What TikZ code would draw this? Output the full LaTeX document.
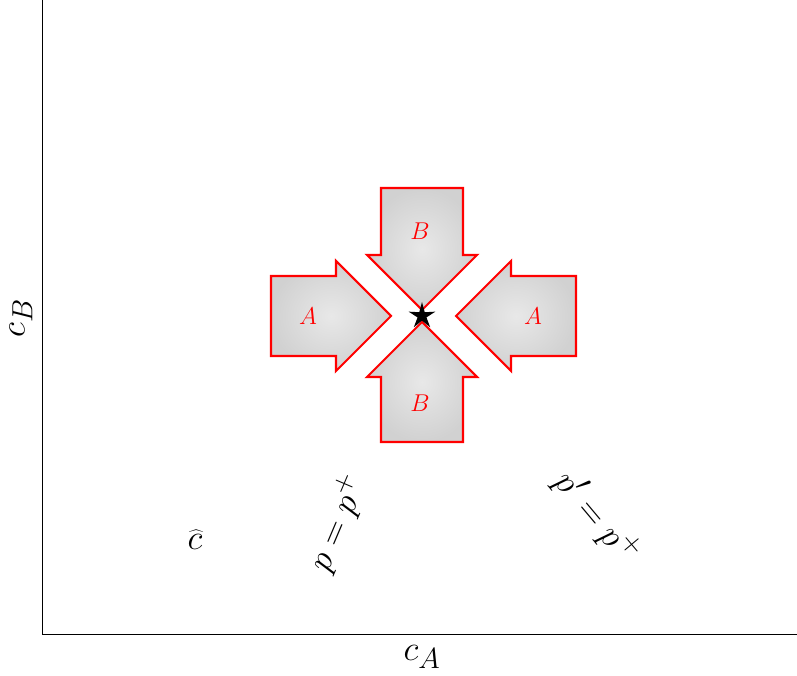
\documentclass[tikz,border=0pt]{standalone}
\usetikzlibrary{shapes.geometric}

\begin{document}
\begin{tikzpicture}[
  x=0.025cm, y=0.025cm,
  axis/.style={
    line width=0.7pt, color=black
  },
  flux/.style={
    draw=red, line width=1.5pt, line join=miter,
    shading=radial, inner color=gray!18, outer color=gray!36
  },
  species/.style={
    text=red, font=\LARGE
  },
  axlabel/.style={
    font=\Huge
  },
  curvelabel/.style={
    font=\Huge, inner sep=0pt
  }
]
\useasboundingbox (0,0) rectangle (797,676);

% ================= Axes =================
\coordinate (origin) at (42,42);
\coordinate (ytop) at (42,676);
\coordinate (xend) at (797,42);
\draw[axis] (ytop) -- (origin) -- (xend);

\node[axlabel] (cA) at (422,19) {$c_A$};
\node[axlabel, rotate=90] (cB) at (21,358) {$c_B$};

% ================= Flux arrows =================
\draw[flux] (271,320) -- (336,320) -- (336,305) -- (391,360) -- (336,415) -- (336,400) -- (271,400) -- cycle;
\draw[flux] (576,320) -- (511,320) -- (511,305) -- (456,360) -- (511,415) -- (511,400) -- (576,400) -- cycle;
\draw[flux] (381,488) -- (381,421) -- (367,421) -- (422,366) -- (477,421) -- (463,421) -- (463,488) -- cycle;
\draw[flux] (381,234) -- (381,299) -- (367,299) -- (422,354) -- (477,299) -- (463,299) -- (463,234) -- cycle;

\node[species] (leftA) at (308,360) {$A$};
\node[species] (rightA) at (533,360) {$A$};
\node[species] (topB) at (420,445) {$B$};
\node[species] (botB) at (420,273) {$B$};

% ================= Saddle point =================
\node[star, star points=5, star point ratio=3, fill=black, inner sep=0pt, minimum size=0.7cm] (saddle) at (422,360) {};

% ================= Curve labels =================
\node[curvelabel, rotate=67] (pcurve) at (337,153) {$p=p^+$};
\node[curvelabel, rotate=-50] (pprime) at (597,159) {$p'=p^+$};
\node[curvelabel] (chat) at (195,136) {$\widehat{c}$};

\end{tikzpicture}
\end{document}
